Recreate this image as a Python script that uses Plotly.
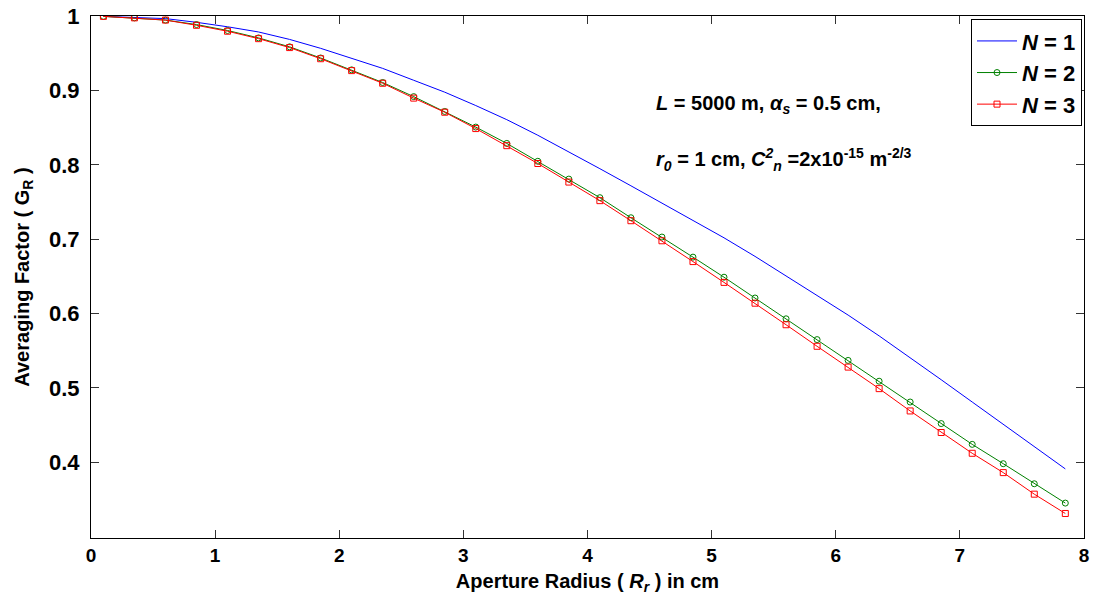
import plotly.graph_objects as go

# ---- data ----
radius_cm = [0.1, 0.35, 0.6, 0.85, 1.1, 1.35, 1.6, 1.85, 2.1, 2.35, 2.6, 2.85, 3.1, 3.35, 3.6, 3.85,
             4.1, 4.35, 4.6, 4.85, 5.1, 5.35, 5.6, 5.85, 6.1, 6.35, 6.6, 6.85, 7.1, 7.35, 7.6, 7.85]

g_n1 = [1.000, 0.999, 0.997, 0.992, 0.986, 0.979, 0.969, 0.957, 0.944, 0.930, 0.914, 0.898, 0.880, 0.861,
        0.840, 0.818, 0.795, 0.772, 0.749, 0.726, 0.702, 0.677, 0.651, 0.625, 0.598, 0.570, 0.541, 0.511,
        0.481, 0.451, 0.421, 0.391]

g_n2 = [1.000, 0.998, 0.995, 0.989, 0.981, 0.971, 0.959, 0.944, 0.928, 0.911, 0.892, 0.872, 0.851, 0.829,
        0.805, 0.781, 0.756, 0.729, 0.703, 0.676, 0.649, 0.621, 0.593, 0.565, 0.537, 0.509, 0.481, 0.452,
        0.424, 0.398, 0.371, 0.345]

g_n3 = [1.000, 0.998, 0.995, 0.988, 0.980, 0.970, 0.958, 0.943, 0.927, 0.910, 0.890, 0.871, 0.849, 0.826,
        0.802, 0.777, 0.752, 0.725, 0.698, 0.670, 0.642, 0.614, 0.585, 0.556, 0.528, 0.499, 0.469, 0.440,
        0.412, 0.386, 0.357, 0.331]

series_names = ["<i>N</i> = 1", "<i>N</i> = 2", "<i>N</i> = 3"]

x_tickvals = [0, 1, 2, 3, 4, 5, 6, 7, 8]
x_ticktext = ["0", "1", "2", "3", "4", "5", "6", "7", "8"]
y_tickvals = [0.4, 0.5, 0.6, 0.7, 0.8, 0.9, 1.0]
y_ticktext = ["0.4", "0.5", "0.6", "0.7", "0.8", "0.9", "1"]

FONT = "Liberation Sans, Arial, sans-serif"

fig = go.Figure()
fig.add_trace(go.Scatter(x=radius_cm, y=g_n1, name=series_names[0], mode="lines",
                         line=dict(color="#0000ff", width=1)))
fig.add_trace(go.Scatter(x=radius_cm, y=g_n2, name=series_names[1], mode="lines+markers",
                         line=dict(color="#008000", width=1),
                         marker=dict(symbol="circle-open", size=6, color="#008000", line=dict(width=1))))
fig.add_trace(go.Scatter(x=radius_cm, y=g_n3, name=series_names[2], mode="lines+markers",
                         line=dict(color="#ff0000", width=1),
                         marker=dict(symbol="square-open", size=6, color="#ff0000", line=dict(width=1))))

axis_common = dict(showline=True, linecolor="black", linewidth=1, mirror="ticks",
                   ticks="inside", ticklen=8, tickwidth=1, tickcolor="#333333",
                   showgrid=False, zeroline=False, automargin=False,
                   ticklabeloverflow="allow")

fig.update_xaxes(range=[0, 8.0005], tickvals=x_tickvals, ticktext=x_ticktext,
                 tickfont=dict(family=FONT, size=19, color="black", weight="bold"),
                 title=dict(text="Aperture Radius ( <i>R<sub>r</sub></i> ) in cm",
                            font=dict(family=FONT, size=20, color="black", weight="bold"),
                            standoff=9),
                 **axis_common)
fig.update_yaxes(range=[0.298, 1.0005], tickvals=y_tickvals, ticktext=y_ticktext,
                 tickfont=dict(family=FONT, size=22, color="black", weight="bold"),
                 ticklabelstandoff=6,
                 title=dict(text="Averaging Factor ( G<sub>R</sub> )",
                            font=dict(family=FONT, size=20, color="black", weight="bold"),
                            standoff=14),
                 **axis_common)

fig.add_annotation(xref="paper", yref="paper", x=0.567, y=0.830, xanchor="left", yanchor="middle",
                   showarrow=False,
                   text="<i>L</i> = 5000 m, <i>α<sub>s</sub></i> = 0.5 cm,",
                   font=dict(family=FONT, size=20, color="black", weight="bold"))
fig.add_annotation(xref="paper", yref="paper", x=0.567, y=0.726, xanchor="left", yanchor="middle",
                   showarrow=False,
                   text="<i>r<sub>0</sub></i> = 1 cm, <i>C<sup>2</sup><sub>n</sub></i> =2x10<sup>-15</sup> m<sup>-2/3</sup>",
                   font=dict(family=FONT, size=20, color="black", weight="bold"))

fig.update_layout(
    width=1099, height=605,
    margin=dict(l=83, r=23, t=8, b=75, autoexpand=False),
    paper_bgcolor="white", plot_bgcolor="white",
    showlegend=True,
    legend=dict(x=0.998, y=0.994, xanchor="right", yanchor="top",
                bgcolor="white", bordercolor="black", borderwidth=1,
                font=dict(family=FONT, size=22, color="black", weight="bold"),
                itemwidth=40, entrywidth=84),
)

fig.write_html("out.html")
